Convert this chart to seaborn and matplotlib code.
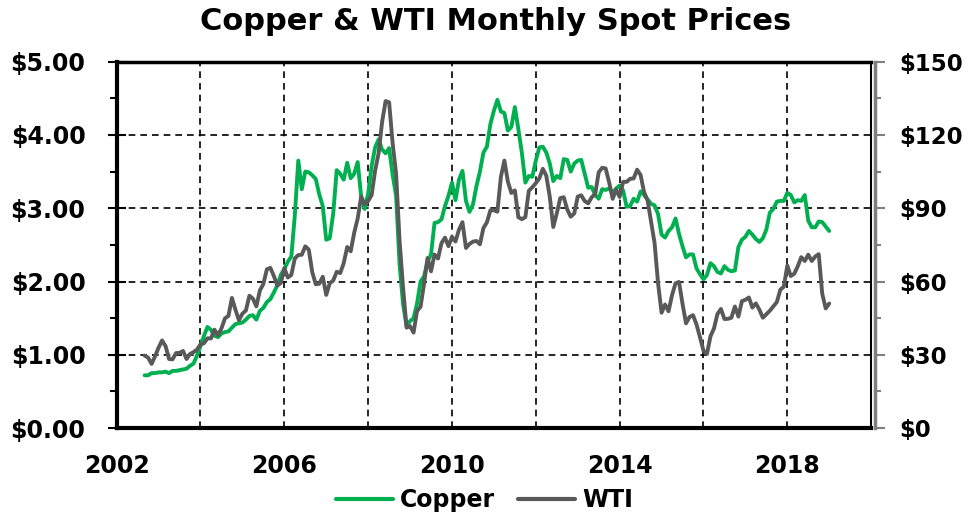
import numpy as np
import pandas as pd
import matplotlib
matplotlib.use("Agg")
import matplotlib.pyplot as plt
import seaborn as sns
from matplotlib.ticker import FixedLocator, MultipleLocator, FuncFormatter
from matplotlib.lines import Line2D

# monthly spot prices, Sep 2002 .. Jan 2019
first_month = "2002-09-01"

# copper, $/lb
copper = [
    0.72, 0.72, 0.75, 0.75,
    0.76, 0.76, 0.77, 0.75, 0.78, 0.78, 0.79, 0.80, 0.81, 0.85, 0.88, 0.99,
    1.12, 1.26, 1.38, 1.34, 1.26, 1.24, 1.29, 1.31, 1.32, 1.37, 1.42, 1.43,
    1.44, 1.48, 1.53, 1.54, 1.48, 1.60, 1.64, 1.72, 1.76, 1.85, 1.95, 2.09,
    2.17, 2.27, 2.34, 2.90, 3.65, 3.26, 3.50, 3.49, 3.45, 3.40, 3.19, 3.03,
    2.57, 2.59, 2.93, 3.52, 3.47, 3.39, 3.62, 3.41, 3.47, 3.63, 3.16, 2.99,
    3.20, 3.58, 3.83, 3.94, 3.80, 3.75, 3.82, 3.46, 3.17, 2.23, 1.69, 1.39,
    1.46, 1.50, 1.70, 2.00, 2.07, 2.27, 2.37, 2.80, 2.81, 2.85, 3.03, 3.17,
    3.35, 3.11, 3.39, 3.51, 3.10, 2.95, 3.05, 3.30, 3.50, 3.76, 3.84, 4.15,
    4.33, 4.48, 4.32, 4.30, 4.06, 4.11, 4.38, 4.08, 3.76, 3.35, 3.44, 3.43,
    3.65, 3.83, 3.84, 3.76, 3.61, 3.37, 3.44, 3.41, 3.67, 3.66, 3.50, 3.61,
    3.65, 3.66, 3.47, 3.28, 3.29, 3.18, 3.13, 3.26, 3.25, 3.27, 3.21, 3.27,
    3.31, 3.24, 3.02, 3.03, 3.13, 3.09, 3.23, 3.18, 3.12, 3.06, 3.04, 2.92,
    2.64, 2.60, 2.69, 2.74, 2.86, 2.65, 2.48, 2.33, 2.37, 2.37, 2.18, 2.10,
    2.03, 2.09, 2.25, 2.21, 2.13, 2.11, 2.21, 2.16, 2.14, 2.15, 2.47, 2.57,
    2.61, 2.69, 2.64, 2.58, 2.54, 2.59, 2.71, 2.94, 2.99, 3.09, 3.10, 3.10,
    3.21, 3.18, 3.08, 3.11, 3.10, 3.18, 2.83, 2.74, 2.74, 2.82, 2.81, 2.75,
    2.69,
]

# WTI, $/bbl
wti = [
    29.67, 28.85, 26.27, 29.42,
    32.94, 35.87, 33.55, 28.25, 28.14, 30.72, 30.76, 31.59, 28.29, 30.33, 31.09, 32.15,
    34.27, 34.74, 36.76, 36.69, 40.28, 38.03, 40.78, 44.90, 45.94, 53.28, 48.47, 44.15,
    46.84, 48.15, 54.19, 52.98, 49.83, 56.35, 59.00, 64.99, 65.59, 62.26, 58.32, 59.41,
    65.49, 61.63, 62.69, 69.44, 70.84, 70.95, 74.41, 73.04, 63.80, 58.89, 59.08, 61.96,
    54.51, 59.28, 60.44, 63.98, 63.46, 67.49, 74.12, 72.36, 79.92, 85.80, 94.77, 91.69,
    92.97, 95.39, 105.45, 112.58, 125.40, 133.88, 133.37, 116.67, 104.11, 76.61, 57.31, 41.12,
    41.71, 39.09, 47.94, 49.65, 59.03, 69.64, 64.15, 71.05, 69.41, 75.72, 77.99, 74.47,
    78.33, 76.39, 81.20, 84.29, 73.74, 75.34, 76.32, 76.60, 75.24, 81.89, 84.25, 89.15,
    89.17, 88.58, 102.86, 109.53, 100.90, 96.26, 97.30, 86.33, 85.52, 86.32, 97.16, 98.56,
    100.27, 102.20, 106.16, 103.32, 94.66, 82.30, 87.90, 94.13, 94.51, 89.49, 86.53, 87.86,
    94.76, 95.31, 92.94, 92.02, 94.51, 95.77, 104.67, 106.57, 106.29, 100.54, 93.86, 97.63,
    94.62, 100.82, 100.80, 102.07, 102.18, 105.79, 103.59, 96.54, 93.21, 84.40, 75.79, 59.29,
    47.22, 50.58, 47.82, 54.45, 59.27, 59.82, 50.90, 42.87, 45.48, 46.22, 42.44, 37.19,
    31.68, 30.32, 37.55, 40.75, 46.71, 48.76, 44.65, 44.72, 45.18, 49.78, 45.66, 51.97,
    52.50, 53.47, 49.33, 51.06, 48.48, 45.18, 46.63, 48.04, 49.82, 51.58, 56.64, 57.88,
    66.50, 62.23, 63.20, 66.25, 69.98, 68.40, 70.98, 68.40, 70.23, 71.20, 55.00, 49.00,
    51.00,
]

year_ticks = [2002, 2004, 2006, 2008, 2010, 2012, 2014, 2016, 2018, 2020]
year_labels = ["2002", "", "2006", "", "2010", "", "2014", "", "2018", ""]

green = "#00B050"
grey = "#595959"

sns.set_style("white")
plt.rcParams['font.family'] = ['DejaVu Sans']
plt.rcParams['font.weight'] = 'bold'
plt.rcParams['text.color'] = 'black'

months = pd.date_range(first_month, periods=len(copper), freq="MS")
df = pd.DataFrame({"t": months.year + (months.month - 1) / 12,
                   "Copper": copper, "WTI": wti})

fig = plt.figure(figsize=(9.69, 5.17), dpi=100)
ax = fig.add_axes([0.1204, 0.172, 0.7786, 0.7087])
ax2 = ax.twinx()

sns.lineplot(data=df, x="t", y="Copper", ax=ax, color=green, lw=2.8)
sns.lineplot(data=df, x="t", y="WTI", ax=ax2, color=grey, lw=2.8)

ax.set_xlim(2002, 2020)
ax.set_ylim(0, 5)
ax2.set_ylim(0, 150)
ax.set_xlabel("")
ax.set_ylabel("")
ax2.set_ylabel("")

# dashed black grid
ax.grid(True, which="major", color="black", ls=(0, (4, 3)), lw=1.2)
ax.set_axisbelow(True)

ax.xaxis.set_major_locator(FixedLocator(year_ticks))
ax.set_xticklabels(year_labels)
ax.yaxis.set_major_locator(MultipleLocator(1))
ax.yaxis.set_minor_locator(MultipleLocator(0.5))
ax.yaxis.set_major_formatter(FuncFormatter(lambda v, p: f"${v:.2f}"))
ax2.yaxis.set_major_locator(MultipleLocator(30))
ax2.yaxis.set_minor_locator(MultipleLocator(15))
ax2.yaxis.set_major_formatter(FuncFormatter(lambda v, p: f"${v:.0f}"))

ax.tick_params(axis="x", direction="inout", length=14, width=1.5, pad=12,
               labelsize=17, colors="black")
ax.tick_params(axis="y", which="major", direction="inout", length=13, width=1.5,
               pad=16, labelsize=17, colors="black")
ax.tick_params(axis="y", which="minor", direction="out", length=5, width=1.5,
               colors="black")
ax.tick_params(axis="y", which="both", right=False)
ax2.tick_params(axis="y", which="major", direction="out", length=7, width=1.5,
                color="#7F7F7F", pad=10, labelsize=16.5, labelcolor="black")
ax2.tick_params(axis="y", which="minor", direction="out", length=4, width=1.5,
                color="#7F7F7F")

for side in ["left", "bottom"]:
    ax.spines[side].set_linewidth(3)
    ax.spines[side].set_color("black")
ax.spines["top"].set_linewidth(2.5)
ax.spines["top"].set_color("black")
ax.spines["right"].set_linewidth(1.5)
ax.spines["right"].set_color("black")
for side in ["left", "top", "bottom"]:
    ax2.spines[side].set_visible(False)
ax2.spines["right"].set_color("#7F7F7F")
ax2.spines["right"].set_linewidth(2.5)
ax2.spines["right"].set_position(("outward", 3))

fig.text(0.511, 0.958, "Copper & WTI Monthly Spot Prices", ha="center", va="center",
         fontsize=22, fontweight="bold", color="black")

handles = [Line2D([], [], color=green, lw=3), Line2D([], [], color=grey, lw=3)]
fig.legend(handles, ["Copper", "WTI"], loc="center", bbox_to_anchor=(0.5, 0.033),
           ncol=2, frameon=False, fontsize=17, handlelength=2.4,
           columnspacing=1.0, handletextpad=0.3, labelcolor="black")

fig.savefig("out.png", dpi=100)
